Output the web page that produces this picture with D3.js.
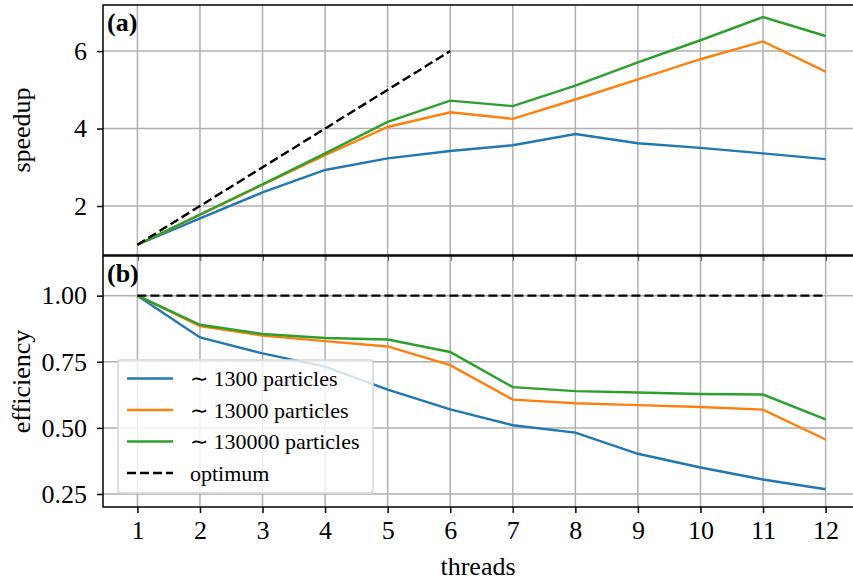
<html>
<head>
<script src="https://d3js.org/d3.v7.min.js"></script>
<style>
  body { margin: 0; background: white; }
</style>
</head>
<body>
<div id="chart"></div>
<script>
// data
var threads = [1, 2, 3, 4, 5, 6, 7, 8, 9, 10, 11, 12];
var seriesNames = ["\u223C 1300 particles", "\u223C 13000 particles", "\u223C 130000 particles"];
var colors = ["#1f77b4", "#ff7f0e", "#2ca02c"];

var speedup1300 = [1, 1.68, 2.35, 2.93, 3.23, 3.42, 3.57, 3.86, 3.62, 3.50, 3.36, 3.21];
var speedup13000 = [1, 1.77, 2.55, 3.31, 4.04, 4.42, 4.25, 4.75, 5.27, 5.79, 6.25, 5.47];
var speedup130000 = [1, 1.78, 2.56, 3.36, 4.17, 4.72, 4.58, 5.11, 5.71, 6.28, 6.88, 6.39];

var eff1300 = [1, 0.842, 0.782, 0.732, 0.645, 0.570, 0.510, 0.482, 0.402, 0.350, 0.305, 0.268];
var eff13000 = [1, 0.885, 0.849, 0.828, 0.808, 0.737, 0.607, 0.593, 0.586, 0.579, 0.569, 0.456];
var eff130000 = [1, 0.890, 0.855, 0.840, 0.834, 0.787, 0.654, 0.639, 0.634, 0.628, 0.626, 0.532];

var optSpeedX = [1, 6];
var optSpeedY = [1, 6];
var optEffX = [1, 12];
var optEffY = [1, 1];

var speedTicks = [2, 4, 6];
var effTicks = [0.25, 0.50, 0.75, 1.00];

var W = 853, H = 581;
var left = 103, right = 860;
var top1 = 5, bot1 = 255, top2 = 256, bot2 = 507;
var FONT = "'Liberation Serif'";

var svg = d3.select("#chart").append("svg")
    .attr("width", W).attr("height", H);

var x = d3.scaleLinear().domain([0.45, 12.55]).range([left, right]);
var y1 = d3.scaleLinear().domain([0.735, 7.19]).range([bot1, top1]);
var y2 = d3.scaleLinear().domain([0.2008, 1.150]).range([bot2, top2]);

function panel(y, yTop, yBot, yTicks, fmt, lines, optX, optY, label, ylabel, showX) {
    var g = svg.append("g");
    // grid
    g.selectAll(".vg").data(threads).enter().append("line")
        .attr("x1", d => x(d)).attr("x2", d => x(d))
        .attr("y1", yTop).attr("y2", yBot)
        .attr("stroke", "#b0b0b0").attr("stroke-width", 1.5);
    g.selectAll(".hg").data(yTicks).enter().append("line")
        .attr("x1", left).attr("x2", right)
        .attr("y1", d => y(d)).attr("y2", d => y(d))
        .attr("stroke", "#b0b0b0").attr("stroke-width", 1.5);

    var line = d3.line().x(d => x(d[0])).y(d => y(d[1]));
    lines.forEach(function (vals, i) {
        g.append("path")
            .datum(threads.map((t, j) => [t, vals[j]]))
            .attr("d", line)
            .attr("fill", "none")
            .attr("stroke", colors[i])
            .attr("stroke-width", 2.4);
    });
    g.append("path")
        .datum(optX.map((t, j) => [t, optY[j]]))
        .attr("d", line)
        .attr("fill", "none")
        .attr("stroke", "black")
        .attr("stroke-width", 2.4)
        .attr("stroke-dasharray", "9,4");

    // y axis
    var ya = g.append("g")
        .attr("transform", "translate(" + left + ",0)")
        .call(d3.axisLeft(y).tickValues(yTicks).tickFormat(fmt).tickSize(6).tickPadding(10));
    ya.select(".domain").remove();
    ya.selectAll("line").attr("stroke-width", 1.5);
    ya.selectAll("text").style("font-size", "26px").style("font-family", FONT).attr("fill", "#000");

    var xa = g.append("g")
        .attr("transform", "translate(0," + yBot + ")")
        .call(d3.axisBottom(x).tickValues(threads).tickSize(6).tickPadding(8));
    xa.select(".domain").remove();
    xa.selectAll("line").attr("stroke-width", 1.5);
    xa.selectAll("text").style("font-size", "26px").style("font-family", FONT).attr("fill", "#000")
        .style("display", showX ? null : "none");

    // frame
    g.append("rect")
        .attr("x", left).attr("y", yTop)
        .attr("width", right - left).attr("height", yBot - yTop)
        .attr("fill", "none").attr("stroke", "black").attr("stroke-width", 1.5);

    g.append("text")
        .attr("x", left + 4).attr("y", yTop + 26)
        .style("font-size", "26px").style("font-family", FONT).style("font-weight", "bold")
        .text(label);

    g.append("text")
        .attr("transform", "translate(30," + ((yTop + yBot) / 2) + ") rotate(-90)")
        .attr("text-anchor", "middle")
        .style("font-size", "26px").style("font-family", FONT)
        .text(ylabel);
}

panel(y1, top1, bot1, speedTicks, d3.format("d"),
    [speedup1300, speedup13000, speedup130000], optSpeedX, optSpeedY, "(a)", "speedup", false);
panel(y2, top2, bot2, effTicks, d3.format(".2f"),
    [eff1300, eff13000, eff130000], optEffX, optEffY, "(b)", "efficiency", true);

svg.append("text")
    .attr("x", 478).attr("y", 575)
    .attr("text-anchor", "middle")
    .style("font-size", "26px").style("font-family", FONT)
    .text("threads");

// legend
var lg = svg.append("g").attr("transform", "translate(118,360)");
lg.append("rect")
    .attr("width", 255).attr("height", 133).attr("rx", 3)
    .attr("fill", "white").attr("fill-opacity", 0.8)
    .attr("stroke", "#d6d6d6").attr("stroke-width", 1.5);
var legendItems = seriesNames.map((n, i) => ({ name: n, color: colors[i], dash: null }))
    .concat([{ name: "optimum", color: "black", dash: "9,4" }]);
legendItems.forEach(function (d, i) {
    var yy = 18.5 + i * 31.5;
    lg.append("line")
        .attr("x1", 9).attr("x2", 55).attr("y1", yy).attr("y2", yy)
        .attr("stroke", d.color).attr("stroke-width", 2.4)
        .attr("stroke-dasharray", d.dash);
    lg.append("text")
        .attr("x", 72).attr("y", yy + 7.5)
        .style("font-size", "22px").style("font-family", FONT)
        .text(d.name);
});
</script>
</body>
</html>
